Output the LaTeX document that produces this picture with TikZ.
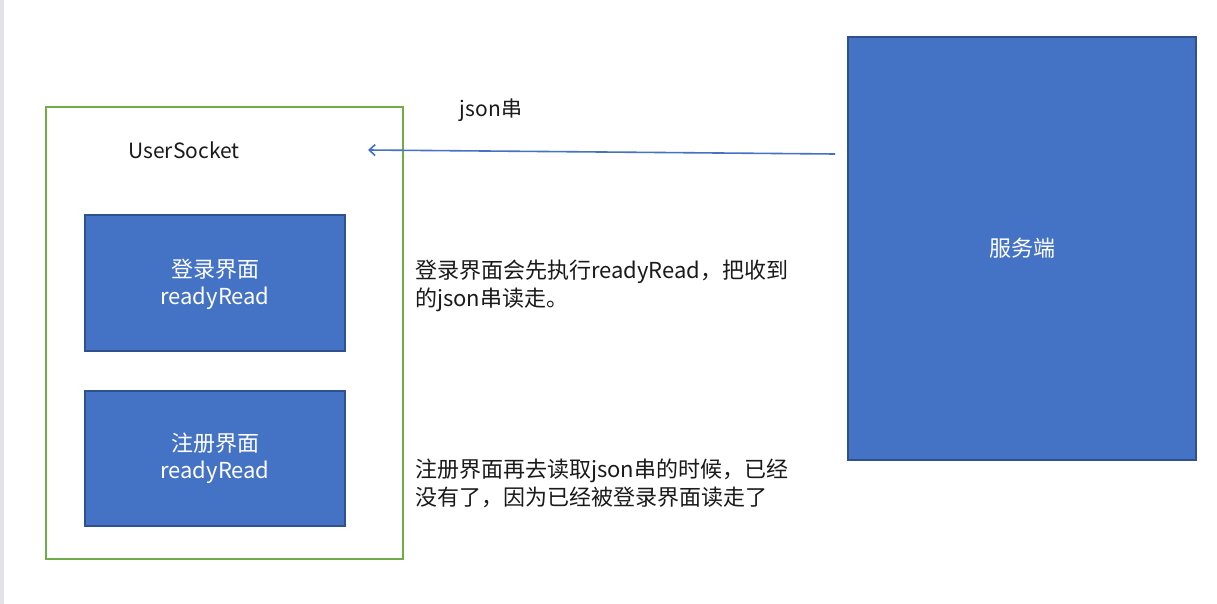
\documentclass[tikz,border=0pt]{standalone}
\usepackage{fontspec}
\setmainfont{Noto Sans CJK SC}
\usetikzlibrary{arrows.meta}
\definecolor{bluefill}{HTML}{4472C4}
\definecolor{blueedge}{HTML}{2F528F}
\definecolor{greenedge}{HTML}{70AD47}
\definecolor{stripgray}{HTML}{E1E3E6}
\definecolor{txt}{HTML}{1A1A1A}
\tikzset{
  bluebox/.style={draw=blueedge, fill=bluefill, line width=2pt, inner sep=0pt},
  boxtext/.style={text=white, font=\fontsize{22}{27}\selectfont, align=center, inner sep=0pt},
  note/.style={text=txt, font=\fontsize{22}{28}\selectfont, align=left, inner sep=0pt, anchor=west},
}
\begin{document}
\begin{tikzpicture}[x=1pt,y=-1pt]
\useasboundingbox (0,0) rectangle (1217,604);
\fill[white] (0,0) rectangle (1217,604);
\fill[stripgray] (0,0) rectangle (3.5,604);
% outer green container
\draw[greenedge, line width=2pt] (46,107) rectangle (403,559);
\node[text=txt, font=\fontsize{21}{27}\selectfont, inner sep=0pt] (us) at (184,150) {UserSocket};
% inner boxes
\draw[bluebox] (85,215) rectangle (345,351);
\node[boxtext] (login) at (215,284) {登录界面\\readyRead};
\draw[bluebox] (85,391) rectangle (345,526);
\node[boxtext] (reg) at (215,458) {注册界面\\readyRead};
% server
\draw[bluebox] (848,37) rectangle (1196,460);
\node[boxtext] (srv) at (1022,248) {服务端};
% arrow
\coordinate (src) at (835,154);
\coordinate (dst) at (368,150);
\draw[bluefill, line width=1.6pt, -{Straight Barb[length=6pt,width=11pt]}] (src) -- (dst);
\node[text=txt, font=\fontsize{21}{27}\selectfont, inner sep=0pt] (json) at (491,110) {json串};
% notes
\node[note] (n1) at (415,286) {登录界面会先执行readyRead，把收到\\的json串读走。};
\node[note] (n2) at (415,483) {注册界面再去读取json串的时候，已经\\没有了，因为已经被登录界面读走了};
\end{tikzpicture}
\end{document}
